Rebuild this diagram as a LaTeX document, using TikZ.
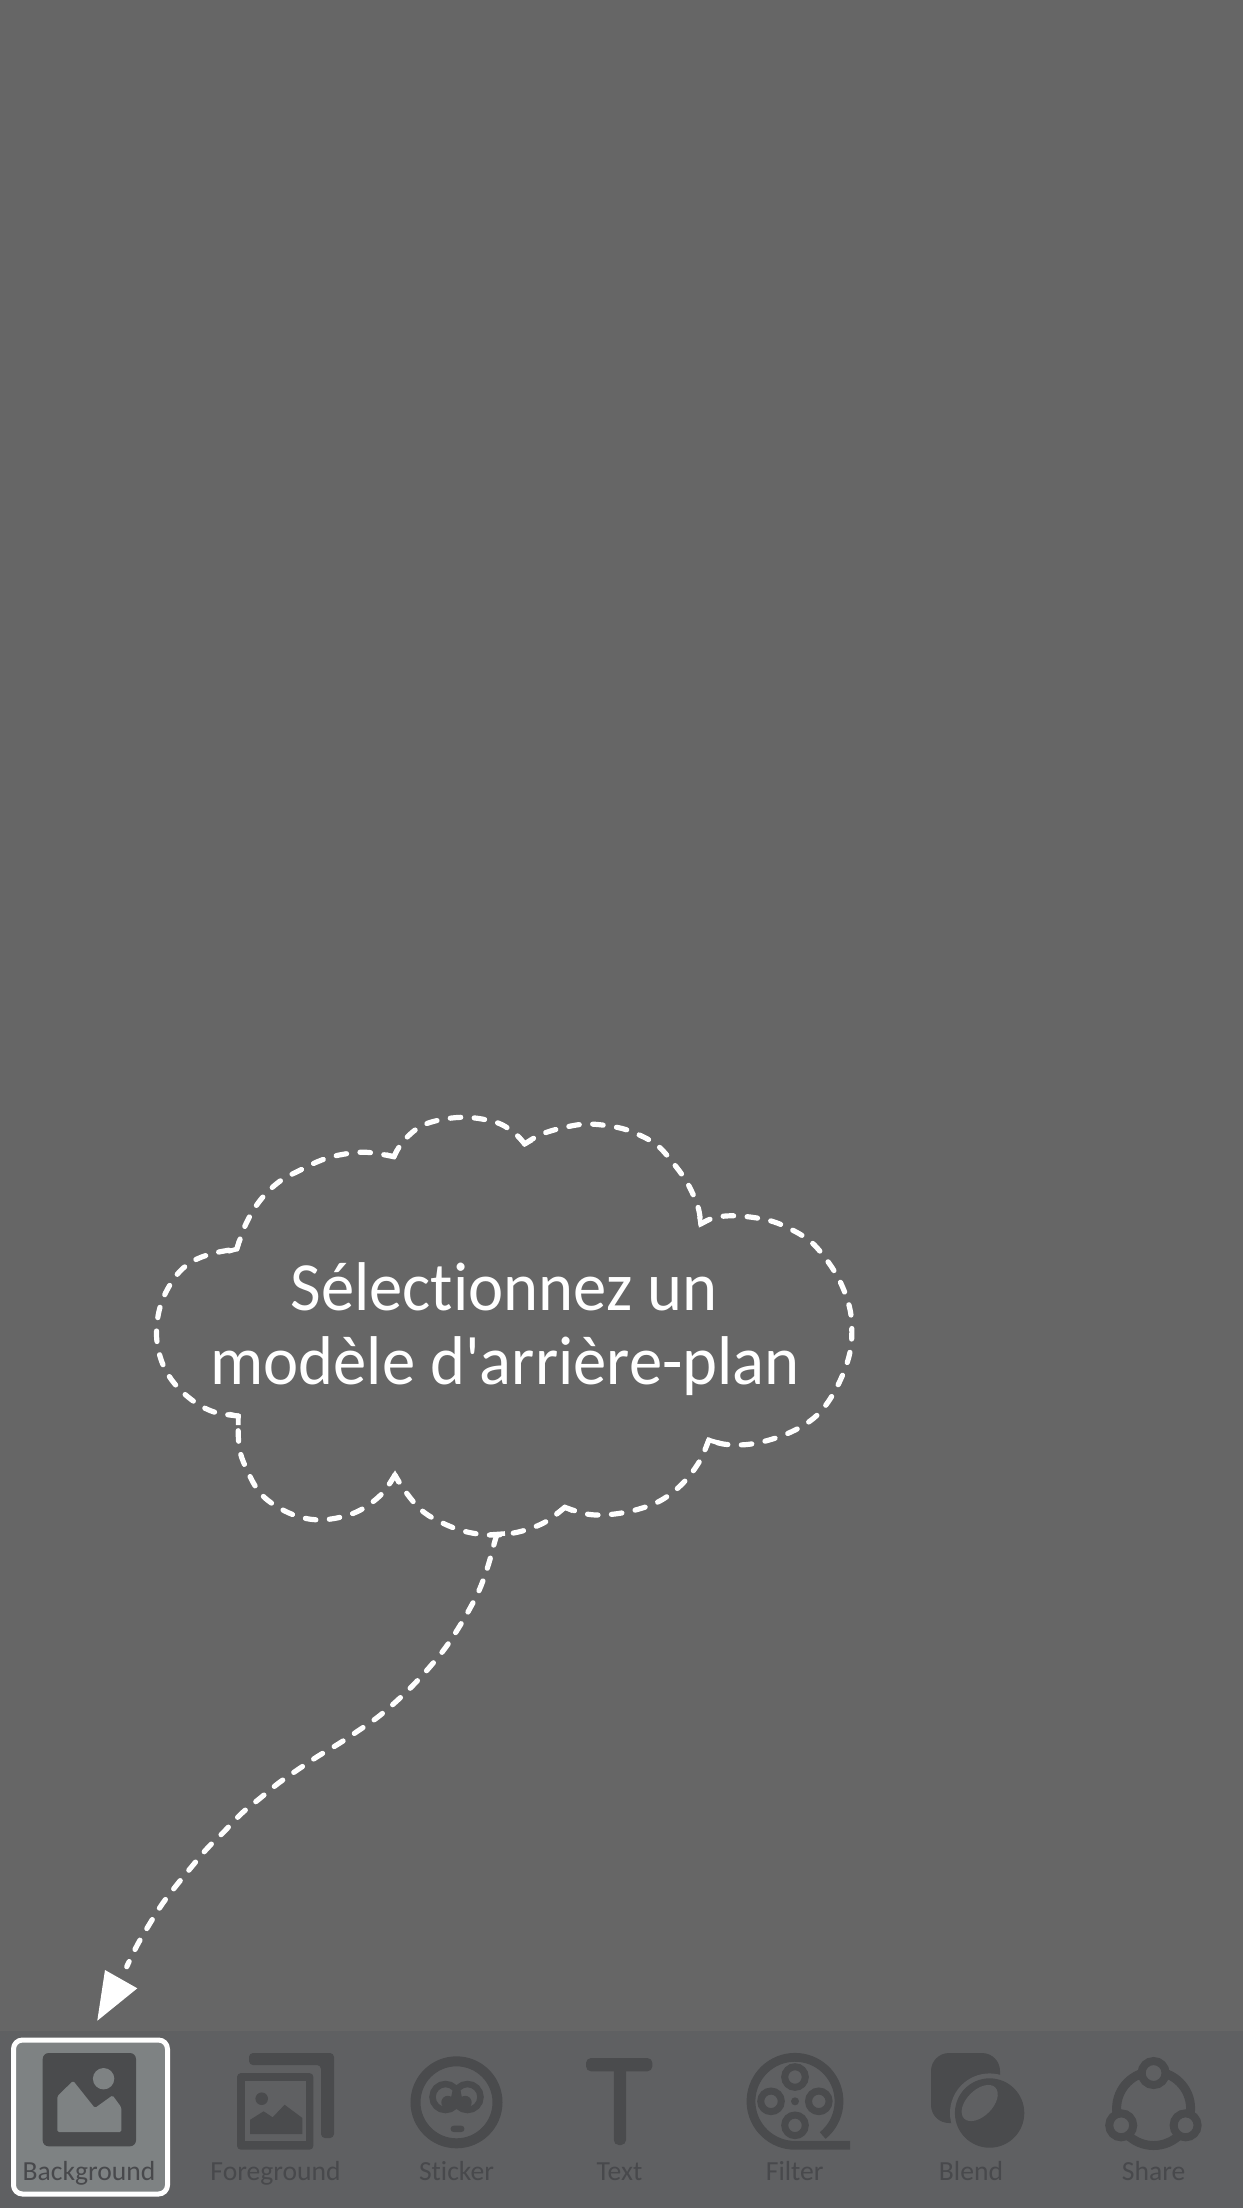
\documentclass[tikz,border=0pt]{standalone}
\usepackage{fontspec}
\setmainfont{Carlito}
\newfontfamily\bigfont[Ligatures=NoCommon,FakeStretch=0.965]{Carlito}
\newfontfamily\barfont[Ligatures=NoCommon]{Carlito}
\definecolor{bgc}{HTML}{666666}
\definecolor{barc}{HTML}{5F6062}
\definecolor{selc}{HTML}{7E8283}
\definecolor{iconc}{HTML}{4A4B4D}
\definecolor{labelc}{HTML}{48494C}
\tikzset{
  x=1pt,y=-1pt,
  dashline/.style={draw=white,line width=5.2pt,line cap=round,dash pattern=on 10.5pt off 13.5pt},
  cusp/.style={draw=white,line width=4.6pt,line cap=butt,line join=miter,miter limit=10},
  barlabel/.style={anchor=base,text=labelc,inner sep=0pt,font=\barfont\fontsize{27.6}{27.6}\selectfont},
  bigtext/.style={anchor=base,text=white,inner sep=0pt,font=\bigfont\fontsize{69}{69}\selectfont},
  iconfill/.style={fill=iconc,draw=none},
  iconline/.style={draw=iconc,fill=none},
}
\begin{document}
\begin{tikzpicture}
\useasboundingbox (0,0) rectangle (1242,2208);
\fill[bgc] (-6,-6) rectangle (1248,2214);
\fill[barc] (-6,2031) rectangle (1248,2214);

% cloud cusps
\coordinate (cA) at (524.7,1144);
\coordinate (cB) at (700.7,1224);
\coordinate (cC) at (708.8,1440);
\coordinate (cD) at (564.8,1507.3);
\coordinate (cF) at (394.9,1475);
\coordinate (cG) at (238.2,1416);
\coordinate (cH) at (236.8,1249);
\coordinate (cI) at (393.9,1156.7);
\coordinate (tailstart) at (496.7,1535);
\coordinate (tailend) at (126.7,1966.7);

% cloud lobes
\draw[dashline] plot[smooth,tension=0.6] coordinates {(cA) (541.2,1134.3) (564.8,1127.3) (588.4,1124) (616.7,1127.3) (635.6,1133.3) (656.8,1145) (673.4,1163.3) (687.5,1183.3) (697.9,1206.7) (cB)};
\draw[dashline] plot[smooth,tension=0.6] coordinates {(cB) (715.8,1217.3) (739.4,1216) (770,1220.7) (793.7,1230.7) (812.6,1243.3) (829.1,1263.3) (840.9,1283.3) (849.4,1306.7) (851.8,1326.7) (850.4,1350) (843.3,1373.3) (831.5,1396.7) (817.3,1415) (798.4,1428.3) (774.8,1438.3) (748.9,1444.3) (725.3,1444.3) (cC)};
\draw[dashline] plot[smooth,tension=0.6] coordinates {(cC) (699.3,1461.7) (682.8,1483.3) (661.6,1500) (638,1509.3) (612,1514.3) (588.4,1514.3) (cD)};
\draw[dashline] plot[smooth,tension=0.6] coordinates {(cD) (545.9,1521.7) (522.3,1531) (496.4,1535) (470.4,1532.7) (446.8,1525) (423.2,1511.7) (406.7,1493.3) (cF)};
\draw[dashline] plot[smooth,tension=0.6] coordinates {(cF) (380.7,1495) (357.1,1511.7) (328.8,1519.3) (305.2,1518.3) (281.6,1509.3) (260.4,1493.3) (246.2,1468.3) (239.1,1446.7) (cG)};
\draw[dashline] plot[smooth,tension=0.6] coordinates {(cG) (213.2,1411.7) (191.9,1400) (173,1381.7) (161.2,1360) (156.5,1333.3) (161.2,1303.3) (175.4,1276.7) (191.9,1261.7) (213.2,1253.3) (cH)};
\draw[dashline] plot[smooth,tension=0.6] coordinates {(cH) (246.2,1223.3) (260.4,1200) (279.2,1181.7) (300.5,1170) (321.7,1160) (343,1154.3) (366.6,1152.3) (cI)};
\draw[dashline] plot[smooth,tension=0.6] coordinates {(cI) (404.3,1140) (425.6,1124) (461,1117.3) (494,1121.7) (512.9,1131.7) (cA)};

% cusp marks
\draw[cusp] (519,1137) -- (cA) -- (532,1140);
\draw[cusp] (699.5,1217) -- (cB) -- (708,1220);
\draw[cusp] (719,1443) -- (cC) -- (706,1447);
\draw[cusp] (556,1514) -- (cD) -- (573,1511);
\draw[cusp] (390,1483) -- (cF) -- (399,1483);
\draw[cusp] (229,1414) -- (cG) -- (238.2,1425);
\draw[cusp] (228,1251.5) -- (cH) -- (239,1241);
\draw[cusp] (386,1154.5) -- (cI) -- (397,1150);
\draw[cusp] (490,1534.5) -- (505,1533.5);

% tail
\draw[dashline] plot[smooth,tension=0.6] coordinates {(tailstart) (493.3,1546.7) (488.3,1565) (480,1588.3) (470,1608.3) (458.3,1628.3) (445,1648.3) (430,1666.7) (413.3,1685) (396.7,1701) (378.3,1716.7) (358.3,1730.7) (338.3,1744) (318.3,1756) (298.3,1769.3) (278.3,1783.3) (260,1798.3) (241.7,1813.3) (224,1831.7) (207.3,1848.3) (191.7,1866.7) (176.7,1885) (162.7,1903.3) (150,1923.3) (137.3,1945) (tailend)};
\fill[white] (105,1970) -- (137.3,1988.3) -- (97.3,2020.7) -- cycle;

% main text
\node[bigtext] (line1) at (504,1310.7) {Sélectionnez un};
\node[bigtext] (line2) at (505,1384) {modèle d'arrière-plan};

% Background (selected)
\draw[fill=selc,draw=white,line width=5pt,rounded corners=9pt] (13.5,2040) rectangle (167.5,2194);
\fill[iconc,rounded corners=6pt] (42.7,2053) rectangle (136,2146.3);
\fill[selc,rounded corners=1.5pt] (57.3,2132) -- (57.3,2096.3) -- (73.1,2080.7) -- (94.9,2108) -- (112.6,2095.3) -- (121.3,2107.3) -- (121.3,2132) -- cycle;
\fill[selc] (103.6,2078.7) circle (10.7);
\node[barlabel] (lbg) at (89,2180.7) {Background};

% Foreground
\fill[iconc,rounded corners=4pt] (249,2053) -- (334,2053) -- (334,2138) -- (321,2138) -- (321,2065) -- (249,2065) -- cycle;
\fill[iconc,rounded corners=4pt] (237,2073) rectangle (313.4,2149.7);
\fill[barc] (245,2081.3) rectangle (306.3,2141.3);
\fill[iconc] (261.7,2098.7) circle (6.3);
\fill[iconc] (250.2,2134) -- (250.2,2119.7) -- (263.6,2111.3) -- (272.7,2117.3) -- (284.6,2104.7) -- (302.4,2118) -- (302.4,2134) -- cycle;
\node[barlabel] (lfg) at (275.5,2180.7) {Foreground};

% Sticker
\draw[iconline,line width=10pt] (456.5,2102.3) circle (41);
\draw[iconline,line width=6.5pt] (445.5,2097) circle (13);
\draw[iconline,line width=6.5pt] (467.5,2097) circle (13);
\fill[iconc] (447.8,2102.3) circle (6.5);
\fill[iconc] (465.2,2102.3) circle (6.5);
\fill[iconc,rounded corners=3pt] (450.6,2125.7) rectangle (464.4,2132);
\node[barlabel] (lst) at (456.5,2180.7) {Sticker};

% Text
\fill[iconc,rounded corners=5pt] (586,2058) rectangle (652.4,2071.3);
\fill[iconc,rounded corners=5pt] (613.8,2060) rectangle (626,2145);
\node[barlabel] (ltx) at (619.5,2180.7) {Text};

% Filter
\draw[iconline,line width=8.8pt,line join=round] plot[smooth,domain=51:-270,samples=60] ({795+44*cos(\x)},{2101.3+44*sin(\x)}) -- (850,2145.3);
\foreach \cx/\cy in {795/2077,795/2125.3,771/2101.3,818.8/2101.3}{
  \draw[iconline,line width=7pt] (\cx,\cy) circle (10.3);
}
\fill[iconc] (795,2101.3) circle (4);
\node[barlabel] (lfl) at (794.7,2180.7) {Filter};

% Blend
\fill[iconc,rounded corners=18pt] (931,2053) rectangle (1000,2123);
\fill[barc] (989.6,2113) circle (39.6);
\fill[iconc] (989.6,2113) circle (34.7);
\fill[barc,rotate around={45:(979.7,2103)}] (979.7,2103) ellipse [x radius=22,y radius=13];
\node[barlabel] (lbl) at (971,2180.7) {Blend};

% Share
\draw[iconline,line width=9pt] (1153.6,2108.5) circle (37);
\foreach \cx/\cy in {1153.6/2073,1121.2/2125.3,1185.6/2125.3}{
  \fill[barc] (\cx,\cy) circle (12);
  \draw[iconline,line width=8pt] (\cx,\cy) circle (12);
}
\node[barlabel] (lsh) at (1153.6,2180.7) {Share};
\end{tikzpicture}
\end{document}
